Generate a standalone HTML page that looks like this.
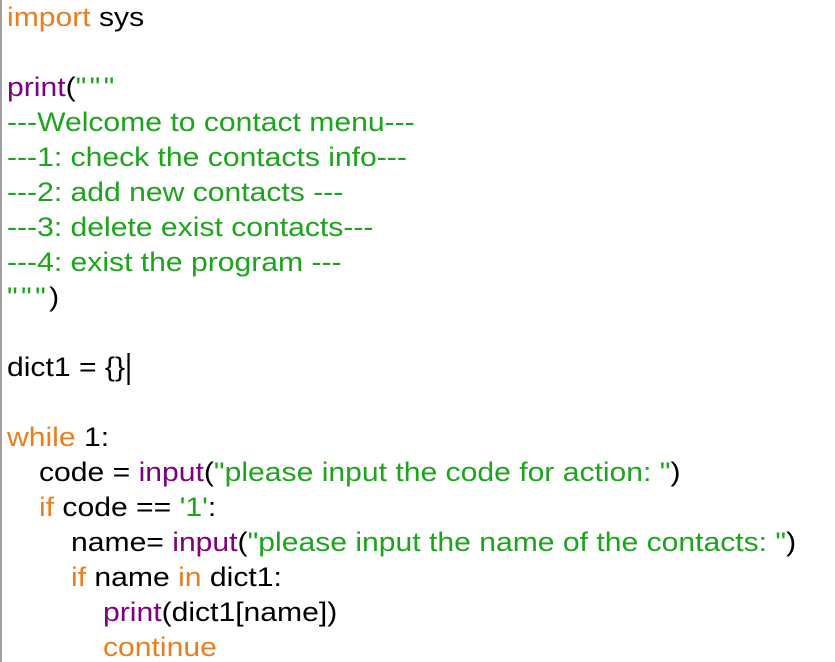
<!DOCTYPE html>
<html><head><meta charset="utf-8"><style>
html,body{margin:0;padding:0;background:#fff;width:835px;height:662px;overflow:hidden}
body{position:relative;font-family:"Liberation Sans",Arial,sans-serif;font-size:27px;color:#000}
.bar{position:absolute;left:0;top:0;width:2px;height:662px;background:#a0a0a0}
.l{position:absolute;left:7px;height:35px;line-height:35px;white-space:pre;transform:scaleX(1.115);transform-origin:0 50%}
.k{color:#ec7d1c}.p{color:#800080}.s{color:#1ca51c}
.q{letter-spacing:3px}
.cur{display:inline-block;width:2px;height:32px;background:#000;vertical-align:middle;margin-left:2px}
</style></head><body>
<div class="bar"></div>
<div class="l" style="top:0"><span class="k">import</span> sys</div>
<div class="l" style="top:70px"><span class="p">print</span>(<span class="s q">"""</span></div>
<div class="l s" style="top:105px">---Welcome to contact menu---</div>
<div class="l s" style="top:140px">---1: check the contacts info---</div>
<div class="l s" style="top:175px">---2: add new contacts ---</div>
<div class="l s" style="top:210px">---3: delete exist contacts---</div>
<div class="l s" style="top:245px">---4: exist the program ---</div>
<div class="l" style="top:280px"><span class="s q">"""</span>)</div>
<div class="l" style="top:350px">dict1 = {}<span class="cur"></span></div>
<div class="l" style="top:420px"><span class="k">while</span> 1:</div>
<div class="l" style="top:455px;left:39px">code = <span class="p">input</span>(<span class="s">"please input the code for action: "</span>)</div>
<div class="l" style="top:490px;left:39px"><span class="k">if</span> code == <span class="s">'1'</span>:</div>
<div class="l" style="top:525px;left:71px">name= <span class="p">input</span>(<span class="s">"please input the name of the contacts: "</span>)</div>
<div class="l" style="top:560px;left:71px"><span class="k">if</span> name <span class="k">in</span> dict1:</div>
<div class="l" style="top:595px;left:103px"><span class="p">print</span>(dict1[name])</div>
<div class="l k" style="top:630px;left:103px">continue</div>
</body></html>
